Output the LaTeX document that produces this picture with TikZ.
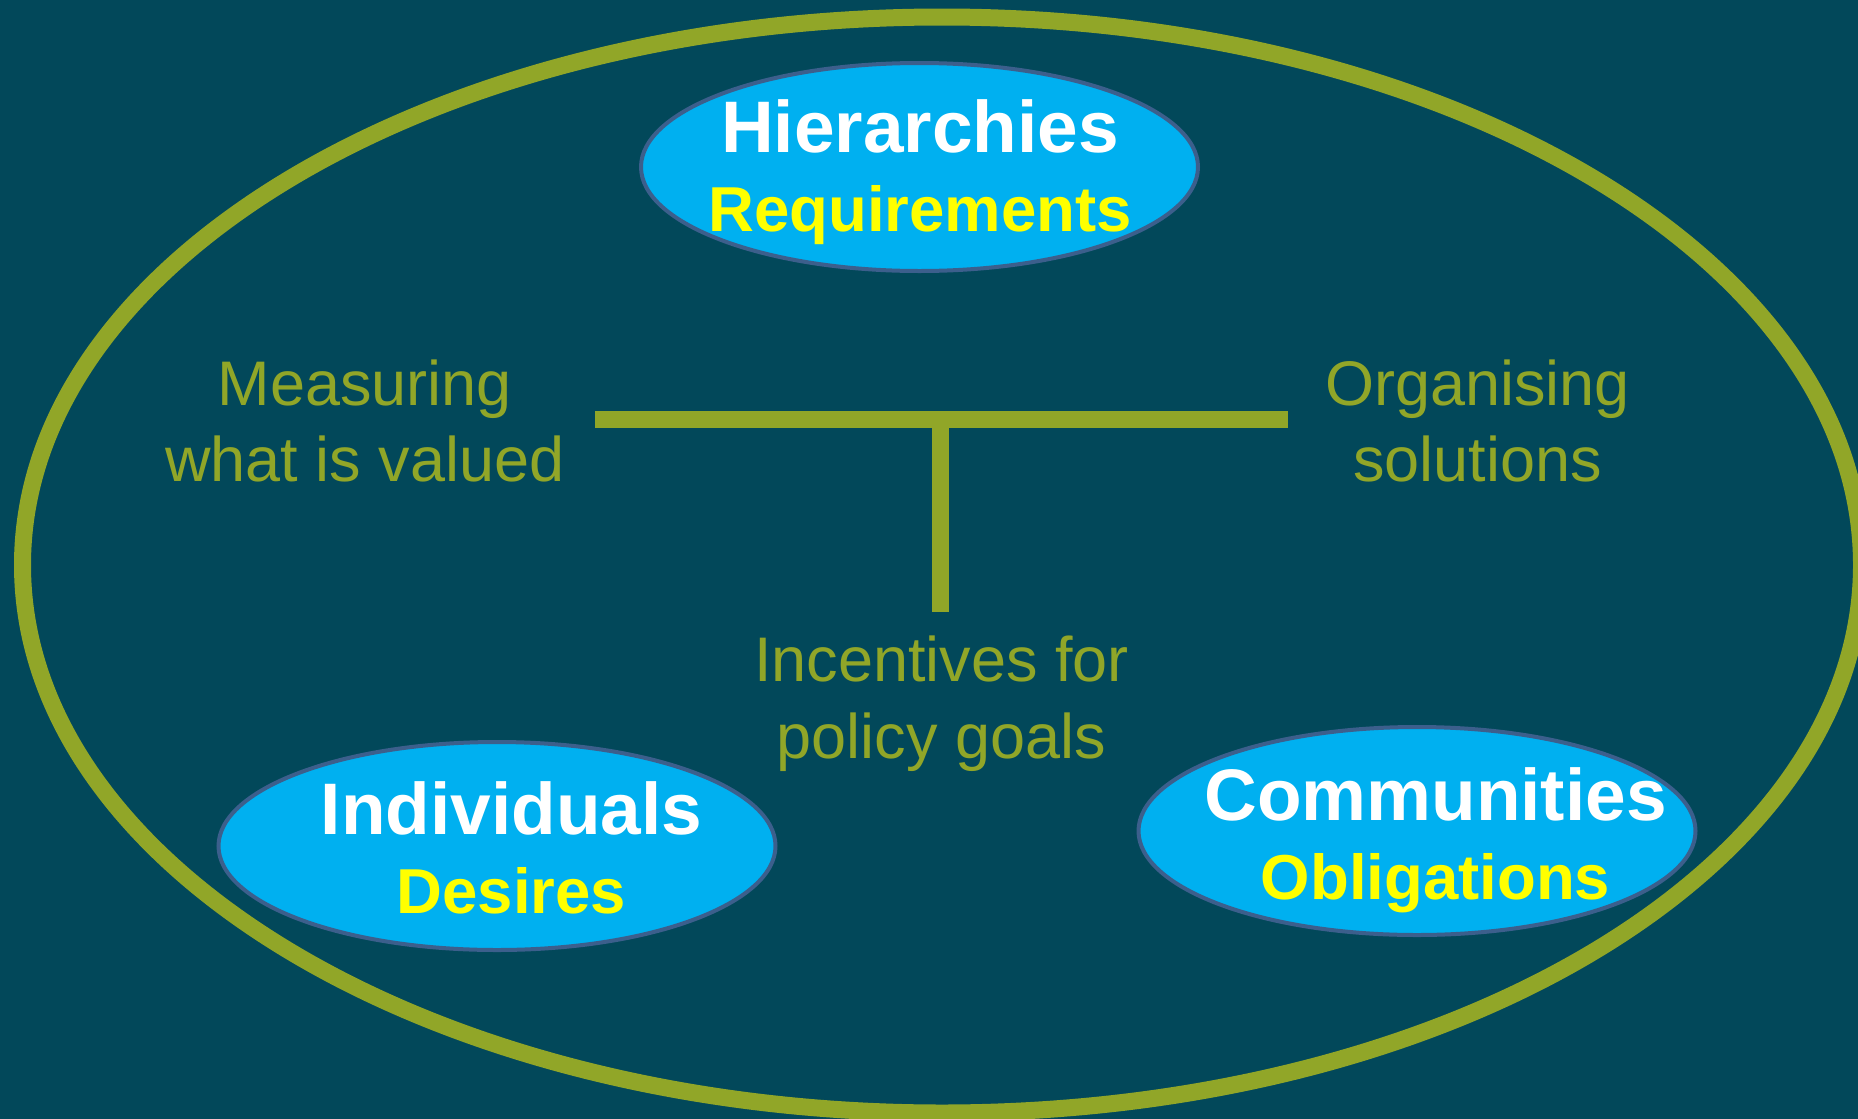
\documentclass[tikz,border=0pt]{standalone}
\usepackage{fontspec}
\setmainfont{Liberation Sans}
\usetikzlibrary{shapes.geometric,positioning}
\definecolor{slidebg}{RGB}{2,72,90}
\definecolor{ringolive}{RGB}{145,166,40}
\definecolor{bubblecyan}{RGB}{0,176,240}
\definecolor{bubbleline}{RGB}{60,95,140}
\definecolor{subyellow}{RGB}{255,255,0}
\newcommand{\subline}[1]{{\fontsize{63.5}{79}\selectfont\color{subyellow}#1}}

\begin{document}
\begin{tikzpicture}[
  x=1pt, y=-1pt,
  ring/.style={draw=ringolive, line width=17pt},
  tbar/.style={draw=ringolive, line width=17pt},
  bubble/.style={ellipse, draw=bubbleline, line width=4pt, fill=bubblecyan,
    minimum width=557pt, minimum height=208pt, inner sep=0pt},
  bubbletext/.style={anchor=base, align=center, inner sep=0pt, text=white,
    font=\bfseries\fontsize{73}{79}\selectfont},
  theme/.style={anchor=base, align=center, inner sep=0pt, text=ringolive,
    font=\fontsize{63}{76.5}\selectfont}
]
\fill[slidebg] (0,0) rectangle (1858,1119);
\useasboundingbox (0,0) rectangle (1858,1119);
\clip (0,0) rectangle (1858,1119);

\draw[ring] (942,565) ellipse [x radius=919.5, y radius=548];

\node[bubble] (hier) at (919.5,167) {};
\node[bubble] (indiv) at (497,846) {};
\node[bubble] (comm) at (1417,831) {};

\node[bubbletext] (hiertext) at (920,231.5) {Hierarchies\\\subline{Requirements}};
\node[bubbletext] (indivtext) at (511.5,913) {Individuals\\\subline{Desires}};
\node[bubbletext] (commtext) at (1435.5,899) {Communities\\\subline{Obligations}};

\node[theme] (measure) at (365,481.7) {Measuring\\what is valued};
\node[theme] (organise) at (1477.5,481.7) {Organising\\solutions};
\node[theme] (incent) at (941.5,758) {Incentives for\\policy goals};

\coordinate (barleft) at (595,419.5);
\coordinate (barright) at (1288,419.5);
\coordinate (stemtop) at (940.5,419.5);
\coordinate (stemfoot) at (940.5,612);
\draw[tbar] (barleft) -- (barright);
\draw[tbar] (stemtop) -- (stemfoot);

\end{tikzpicture}
\end{document}
